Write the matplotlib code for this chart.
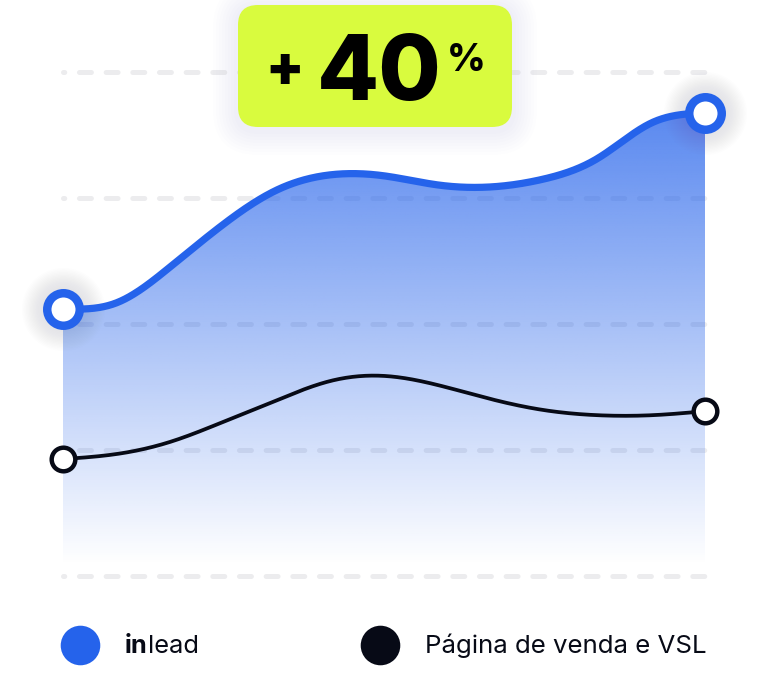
import numpy as np
import matplotlib
matplotlib.use("Agg")
import matplotlib.pyplot as plt
from matplotlib.patches import Polygon, FancyBboxPatch
from matplotlib.lines import Line2D

plt.rcParams['lines.scale_dashes'] = False
plt.rcParams['font.family'] = ['Inter', 'DejaVu Sans']

# ---------------- data ----------------
x_points = list(range(13))
inlead = [53.0, 54.2, 61.3, 69.8, 76.6, 79.6, 79.4, 77.6, 77.2, 78.8, 82.9, 89.9, 91.9]
vsl = [23.2, 24.2, 26.6, 30.6, 34.9, 38.7, 39.7, 37.9, 35.1, 32.9, 31.9, 31.9, 32.7]
grid_values = [0, 25, 50, 75, 100]
badge_sign = "+"
badge_number = "40"
badge_unit = "%"
legend_labels = ["inlead", "Página de venda e VSL"]

BLUE = "#2563eb"
DARK = "#070a16"
LIME = "#d9fb3e"
GRID = "#ececee"

W, H = 768, 688


def natural_spline(x, y, xs):
    x = np.asarray(x, float)
    y = np.asarray(y, float)
    n = len(x)
    h = np.diff(x)
    A = np.zeros((n, n))
    b = np.zeros(n)
    A[0, 0] = 1
    A[-1, -1] = 1
    for i in range(1, n - 1):
        A[i, i - 1] = h[i - 1]
        A[i, i] = 2 * (h[i - 1] + h[i])
        A[i, i + 1] = h[i]
        b[i] = 3 * ((y[i + 1] - y[i]) / h[i] - (y[i] - y[i - 1]) / h[i - 1])
    c = np.linalg.solve(A, b)
    bc = (y[1:] - y[:-1]) / h - h * (2 * c[:-1] + c[1:]) / 3
    d = (c[1:] - c[:-1]) / (3 * h)
    idx = np.clip(np.searchsorted(x, xs) - 1, 0, n - 2)
    dx = xs - x[idx]
    return y[idx] + bc[idx] * dx + c[idx] * dx ** 2 + d[idx] * dx ** 3


fig = plt.figure(figsize=(W / 100, H / 100), dpi=100)
fig.patch.set_facecolor("white")

ax = fig.add_axes([63 / W, 1 - 576 / H, (705 - 63) / W, (576 - 72) / H])
ax.set_xlim(x_points[0], x_points[-1])
ax.set_ylim(grid_values[0], grid_values[-1])
ax.axis("off")

# gridlines
for v in grid_values:
    ax.plot([x_points[0], x_points[-1]], [v, v], color=GRID, lw=3.6,
            linestyle=(7.7, (8.6, 10.6)), dash_capstyle="round",
            zorder=1, clip_on=False)

xs = np.linspace(x_points[0], x_points[-1], 600)
ys_blue = natural_spline(x_points, inlead, xs)
ys_dark = natural_spline(x_points, vsl, xs)

# gradient fill under the blue curve
vtop = max(ys_blue)
v0 = 2.2
nrow = 300
vv = np.linspace(0, vtop, nrow)
alpha = np.clip(0.76 * (vv - v0) / (vtop - v0), 0, 1)
rgb = matplotlib.colors.to_rgb(BLUE)
img = np.zeros((nrow, 2, 4))
img[..., 0] = rgb[0]
img[..., 1] = rgb[1]
img[..., 2] = rgb[2]
img[..., 3] = alpha[:, None]
poly = Polygon(np.column_stack([np.r_[xs, xs[-1], xs[0]], np.r_[ys_blue, 0, 0]]),
               closed=True, facecolor="none", edgecolor="none")
ax.add_patch(poly)
im = ax.imshow(img, origin="lower", extent=[x_points[0], x_points[-1], 0, vtop],
               aspect="auto", interpolation="bilinear", zorder=2)
im.set_clip_path(poly)

# glow around blue end markers
ends_x = [x_points[0], x_points[-1]]
for k in range(16):
    ax.plot(ends_x, [inlead[0], inlead[-1]], "o", ms=30 + k * 2.0, color="#6a6a70",
            alpha=0.006, mew=0, zorder=3, clip_on=False)

# lines
ax.plot(xs, ys_dark, color=DARK, lw=2.7, zorder=4, solid_capstyle="round")
ax.plot(xs, ys_blue, color=BLUE, lw=5.2, zorder=5, solid_capstyle="round")

ax.plot(ends_x, [vsl[0], vsl[-1]], "o", ms=17, mfc="white", mec=DARK, mew=3.2,
        zorder=6, clip_on=False)
ax.plot(ends_x, [inlead[0], inlead[-1]], "o", ms=23.4, mfc="white", mec=BLUE, mew=6.1,
        zorder=7, clip_on=False)

# overlay in pixel coordinates for badge and legend
ov = fig.add_axes([0, 0, 1, 1])
ov.set_xlim(0, W)
ov.set_ylim(H, 0)
ov.axis("off")
ov.patch.set_alpha(0)

for k in range(8):
    pad = 4 + k * 3
    ov.add_patch(FancyBboxPatch((238 - pad, 5 - pad + 3), 274 + 2 * pad, 122 + 2 * pad,
                                boxstyle="round,pad=0,rounding_size=%f" % (20 + pad),
                                facecolor="#6a6a80", edgecolor="none", alpha=0.006))
ov.add_patch(FancyBboxPatch((238, 5), 274, 122, boxstyle="round,pad=0,rounding_size=20",
                            facecolor=LIME, edgecolor="none"))
ov.text(285, 66, badge_sign, fontsize=40, fontweight="black", color="black",
        ha="center", va="center_baseline")
ov.text(317, 100, badge_number, fontsize=65, fontweight="heavy", color="black",
        ha="left", va="baseline")
ov.text(447, 71, badge_unit, fontsize=27, fontweight="heavy", color="black",
        ha="left", va="baseline")

# legend
ov.add_line(Line2D([80], [645], marker="o", ms=28.5, color=BLUE, mew=0))
ov.add_line(Line2D([380], [645], marker="o", ms=28.5, color=DARK, mew=0))
t_in = ov.text(125, 653, legend_labels[0][:2], fontsize=18.3, fontweight="bold",
               color=DARK, ha="left", va="baseline")
fig.canvas.draw()
bb = t_in.get_window_extent(fig.canvas.get_renderer())
ov.text(bb.x1, 653, legend_labels[0][2:], fontsize=18.3, color=DARK,
        ha="left", va="baseline")
ov.text(425, 653, legend_labels[1], fontsize=18.6, color=DARK, ha="left", va="baseline")

fig.savefig("out.png", dpi=100)
